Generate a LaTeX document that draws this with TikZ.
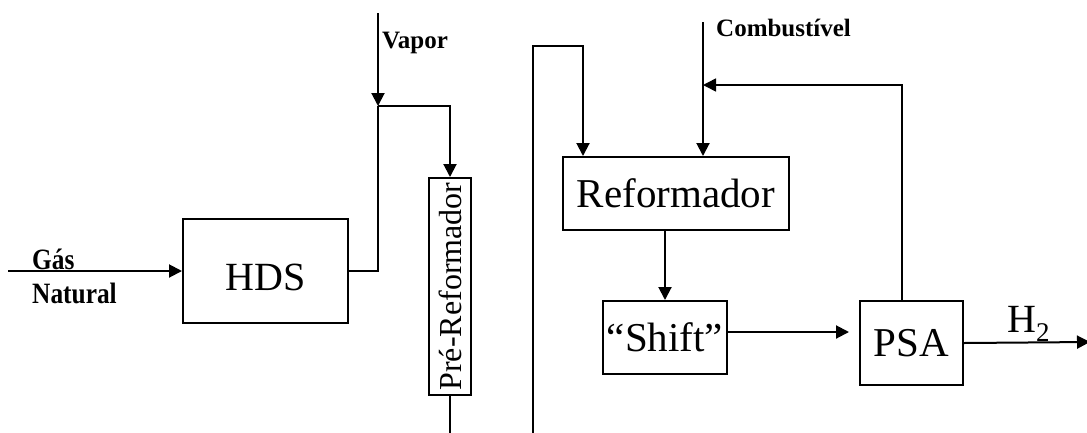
\documentclass[tikz,border=0pt]{standalone}
\usepackage{fontspec}
\setmainfont{Liberation Serif}
\newfontface\gasfont[FakeStretch=0.86]{Liberation Serif Bold}
\usetikzlibrary{arrows.meta}
\newcommand{\fsz}[1]{\fontsize{#1}{#1}\selectfont}
\tikzset{
  ln/.style={line width=2pt},
  arr/.style={line width=2pt, -{Triangle[length=13pt,width=13pt]}},
  box/.style={draw, line width=2pt, inner sep=0pt},
  lbl/.style={inner sep=0pt, anchor=base west, font=\fsz{25}\bfseries},
  gaslbl/.style={inner sep=0pt, anchor=base west, font=\gasfont\fsz{29.5}},
}
\begin{document}
\begin{tikzpicture}[x=1pt,y=-1pt]
\useasboundingbox (0,0) rectangle (1087,432);
% boxes
\node[box, minimum width=165pt, minimum height=104pt, font=\fsz{40}, text height=39pt, text depth=0pt] (hds) at (265.5,271) {HDS};
\node[box, rotate=90, minimum width=217pt, minimum height=42pt, font=\fsz{32}] (prer) at (450,286.5) {Pré-Reformador};
\node[box, minimum width=226pt, minimum height=73pt, font=\fsz{41}] (ref) at (676,193.5) {Reformador};
\node[box, minimum width=124pt, minimum height=73pt, font=\fsz{41}] (shift) at (665,337.5) {“Shift”};
\node[box, minimum width=103pt, minimum height=84pt, font=\fsz{41}] (psa) at (911.5,343) {PSA};
% labels
\node[gaslbl] (gas) at (32,269) {Gás};
\node[gaslbl] (nat) at (32,303) {Natural};
\node[lbl] (vap) at (382,48) {Vapor};
\node[lbl] (comb) at (716,36) {Combustível};
\node[lbl, font=\fsz{40}] (h2) at (1007,332) {H\raisebox{-9pt}{\fsz{27}2}};
% free ends
\coordinate (gasin) at (8,271);
\coordinate (vapin) at (378,13);
\coordinate (j1) at (378,106);
\coordinate (prebot) at (450,433);
\coordinate (bigbot) at (533,433);
\coordinate (bigtop) at (533,46);
\coordinate (combin) at (703,22);
\coordinate (ret) at (703,85);
\coordinate (h2out) at (1090,342);
% connectors
\draw[arr] (gasin) -- (hds.west);
\draw[ln] (hds.east) -| (j1);
\draw[arr] (vapin) -- (j1);
\draw[arr] (j1) -| (prer.east);
\draw[ln] (prer.west) -- (prebot);
\draw[arr] (bigbot) -- (bigtop) -| ([xshift=-93pt]ref.north);
\draw[arr] (combin) -- (combin |- ref.north);
\draw[arr, line width=1.5pt] ([xshift=-9.5pt]psa.north) |- (ret);
\draw[arr] (ref.south -| shift.north) -- (shift.north);
\draw[arr, shorten >=10pt] ([yshift=5.5pt]shift.east) -- ([yshift=5.5pt]shift.east -| psa.west);
\draw[arr] (psa.east) -- (h2out);
\end{tikzpicture}
\end{document}
